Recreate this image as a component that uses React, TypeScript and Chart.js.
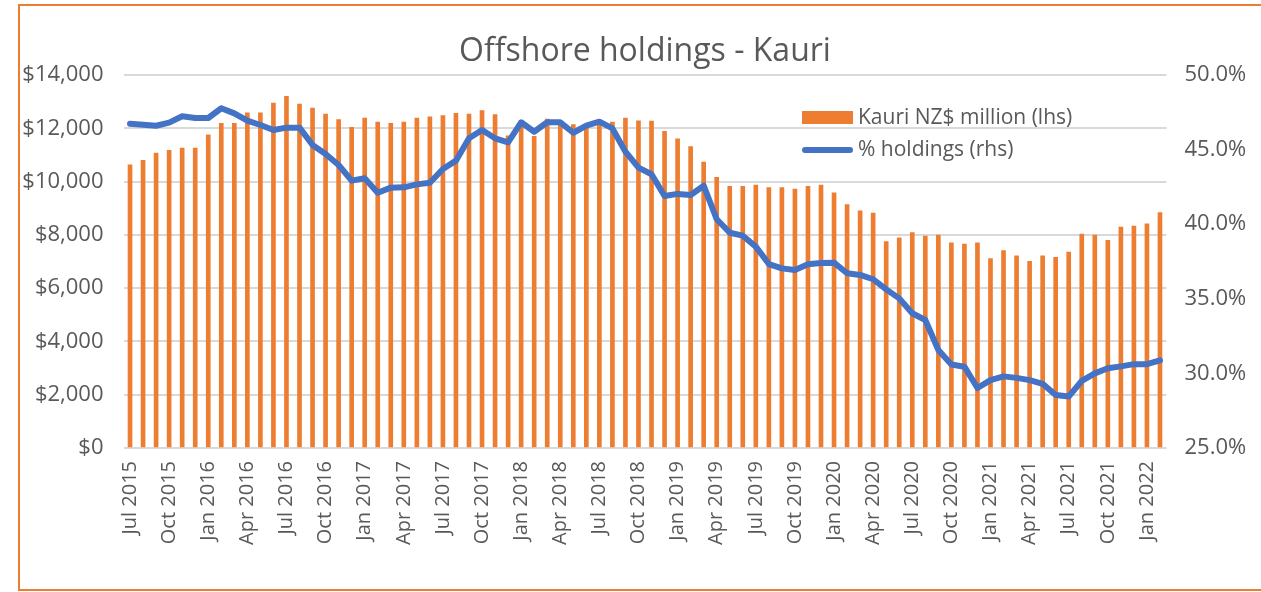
import React, { useEffect, useRef } from 'react';
import { Chart, registerables } from 'chart.js';

Chart.register(...registerables);

const categories: string[] = [
  'Jul 2015', 'Aug 2015', 'Sep 2015', 'Oct 2015', 'Nov 2015', 'Dec 2015',
  'Jan 2016', 'Feb 2016', 'Mar 2016', 'Apr 2016', 'May 2016', 'Jun 2016', 'Jul 2016', 'Aug 2016', 'Sep 2016', 'Oct 2016', 'Nov 2016', 'Dec 2016',
  'Jan 2017', 'Feb 2017', 'Mar 2017', 'Apr 2017', 'May 2017', 'Jun 2017', 'Jul 2017', 'Aug 2017', 'Sep 2017', 'Oct 2017', 'Nov 2017', 'Dec 2017',
  'Jan 2018', 'Feb 2018', 'Mar 2018', 'Apr 2018', 'May 2018', 'Jun 2018', 'Jul 2018', 'Aug 2018', 'Sep 2018', 'Oct 2018', 'Nov 2018', 'Dec 2018',
  'Jan 2019', 'Feb 2019', 'Mar 2019', 'Apr 2019', 'May 2019', 'Jun 2019', 'Jul 2019', 'Aug 2019', 'Sep 2019', 'Oct 2019', 'Nov 2019', 'Dec 2019',
  'Jan 2020', 'Feb 2020', 'Mar 2020', 'Apr 2020', 'May 2020', 'Jun 2020', 'Jul 2020', 'Aug 2020', 'Sep 2020', 'Oct 2020', 'Nov 2020', 'Dec 2020',
  'Jan 2021', 'Feb 2021', 'Mar 2021', 'Apr 2021', 'May 2021', 'Jun 2021', 'Jul 2021', 'Aug 2021', 'Sep 2021', 'Oct 2021', 'Nov 2021', 'Dec 2021',
  'Jan 2022', 'Feb 2022',
];

// Kauri NZ$ million (lhs)
const kauriMillion: number[] = [
  10630, 10800, 11070, 11170, 11260, 11260,
  11750, 12190, 12190, 12580, 12580, 12950, 13200, 12910, 12760, 12530, 12330, 12040,
  12380, 12230, 12190, 12230, 12380, 12430, 12480, 12560, 12530, 12660, 12510, 11720,
  12300, 11700, 12350, 12280, 12140, 12150, 12300, 12230, 12380, 12280, 12270, 11890,
  11600, 11310, 10730, 10160, 9820, 9820, 9870, 9770, 9770, 9720, 9820, 9870,
  9580, 9140, 8900, 8820, 7750, 7890, 8090, 7950, 7990, 7700, 7650, 7700,
  7110, 7410, 7210, 7010, 7210, 7160, 7350, 8030, 7990, 7790, 8290, 8330,
  8410, 8840,
];

// % holdings (rhs)
const holdingsPct: number[] = [
  46.74, 46.67, 46.6, 46.81, 47.23, 47.12,
  47.12, 47.77, 47.43, 46.94, 46.65, 46.31, 46.47, 46.47, 45.31, 44.71, 43.97, 42.92,
  43.08, 42.11, 42.45, 42.47, 42.67, 42.78, 43.7, 44.26, 45.76, 46.31, 45.76, 45.49,
  46.83, 46.2, 46.83, 46.83, 46.13, 46.6, 46.87, 46.42, 44.86, 43.79, 43.35, 41.89,
  42.03, 41.96, 42.58, 40.33, 39.43, 39.23, 38.5, 37.33, 37.04, 36.93, 37.31, 37.4,
  37.42, 36.71, 36.6, 36.31, 35.63, 35.03, 34.03, 33.58, 31.57, 30.6, 30.45, 29.02,
  29.55, 29.8, 29.7, 29.55, 29.3, 28.55, 28.45, 29.5, 30.0, 30.35, 30.47, 30.62,
  30.62, 30.88,
];

const titleText = 'Offshore holdings - Kauri';
const barSeriesName = 'Kauri NZ$ million (lhs)';
const lineSeriesName = '% holdings (rhs)';

const ORANGE = '#ED7D31';
const BLUE = '#4472C4';
const TEXT = '#595959';
const GRID = '#D9D9D9';
const FONT = "'Open Sans', 'Noto Sans', sans-serif";

const legendPlugin = {
  id: 'insideLegend',
  afterDraw(chart: any) {
    const ctx = chart.ctx;
    const ds = chart.data.datasets;
    const barDs = ds.find((d: any) => d.type === 'bar');
    const lineDs = ds.find((d: any) => d.type === 'line');
    ctx.save();
    ctx.font = `21px ${FONT}`;
    ctx.textBaseline = 'middle';
    ctx.textAlign = 'left';
    // item 1: bar swatch
    ctx.fillStyle = barDs.backgroundColor;
    ctx.fillRect(802, 111, 51, 13);
    ctx.fillStyle = TEXT;
    ctx.fillText(barDs.label, 858, 118);
    // item 2: line swatch
    ctx.strokeStyle = lineDs.borderColor;
    ctx.lineWidth = 6;
    ctx.lineCap = 'round';
    ctx.beginPath();
    ctx.moveTo(805, 150);
    ctx.lineTo(850, 150);
    ctx.stroke();
    ctx.fillText(lineDs.label, 858, 150);
    ctx.restore();
  },
};

export default function App() {
  const canvasRef = useRef<HTMLCanvasElement | null>(null);

  useEffect(() => {
    document.body.style.overflow = 'hidden';
    const canvas = canvasRef.current;
    if (!canvas) return;
    const chart = new Chart(canvas, {
      type: 'bar',
      data: {
        labels: categories,
        datasets: [
          {
            type: 'line',
            label: lineSeriesName,
            data: holdingsPct,
            yAxisID: 'y1',
            borderColor: BLUE,
            backgroundColor: BLUE,
            borderWidth: 6,
            pointRadius: 0,
            tension: 0,
            borderJoinStyle: 'round',
            borderCapStyle: 'round',
            order: 0,
          } as any,
          {
            type: 'bar',
            label: barSeriesName,
            data: kauriMillion,
            yAxisID: 'y',
            backgroundColor: ORANGE,
            borderWidth: 0,
            barThickness: 4,
            order: 1,
          } as any,
        ],
      },
      options: {
        responsive: false,
        animation: false,
        devicePixelRatio: 1,
        layout: { padding: 0 },
        plugins: {
          legend: { display: false },
          tooltip: { enabled: false },
          title: {
            display: true,
            text: titleText,
            color: TEXT,
            fullSize: false,
            font: { family: FONT, size: 32, weight: 'normal' },
            padding: { top: 33, bottom: 3.6 },
          },
        },
        scales: {
          x: {
            offset: true,
            grid: { display: false, drawTicks: false },
            border: { display: false },
            ticks: {
              autoSkip: false,
              maxRotation: 90,
              minRotation: 90,
              padding: 13,
              color: TEXT,
              font: { family: FONT, size: 20 },
              callback: (_v: any, i: number) => (i % 3 === 0 ? categories[i] : ''),
            },
            afterFit: (scale: any) => {
              scale.height = 144;
            },
          },
          y: {
            position: 'left',
            min: 0,
            max: 14000,
            grid: { color: GRID, lineWidth: 2, drawTicks: false },
            border: { display: false },
            ticks: {
              stepSize: 2000,
              padding: 20,
              color: TEXT,
              font: { family: FONT, size: 22 },
              callback: (v: any) => '$' + Number(v).toLocaleString('en-US'),
            },
            afterFit: (scale: any) => {
              scale.width = 123.5;
            },
          },
          y1: {
            position: 'right',
            min: 25,
            max: 50,
            grid: { display: false, drawTicks: false },
            border: { display: false },
            ticks: {
              stepSize: 5,
              padding: 18,
              color: TEXT,
              font: { family: FONT, size: 22 },
              callback: (v: any) => Number(v).toFixed(1) + '%',
            },
            afterFit: (scale: any) => {
              scale.width = 1261 - 1166.5;
            },
          },
        },
      },
      plugins: [legendPlugin],
    });
    return () => chart.destroy();
  }, []);

  return (
    <>
      <canvas
        ref={canvasRef}
        width={1261}
        height={592}
        style={{ position: 'absolute', left: 0, top: 0, width: 1261, height: 592 }}
      />
      <div
        style={{
          position: 'absolute',
          left: 18,
          top: 4,
          width: 1243,
          height: 587,
          boxSizing: 'border-box',
          borderLeft: `2px solid ${ORANGE}`,
          borderTop: `2px solid ${ORANGE}`,
          borderBottom: `2px solid ${ORANGE}`,
          pointerEvents: 'none',
        }}
      />
    </>
  );
}
